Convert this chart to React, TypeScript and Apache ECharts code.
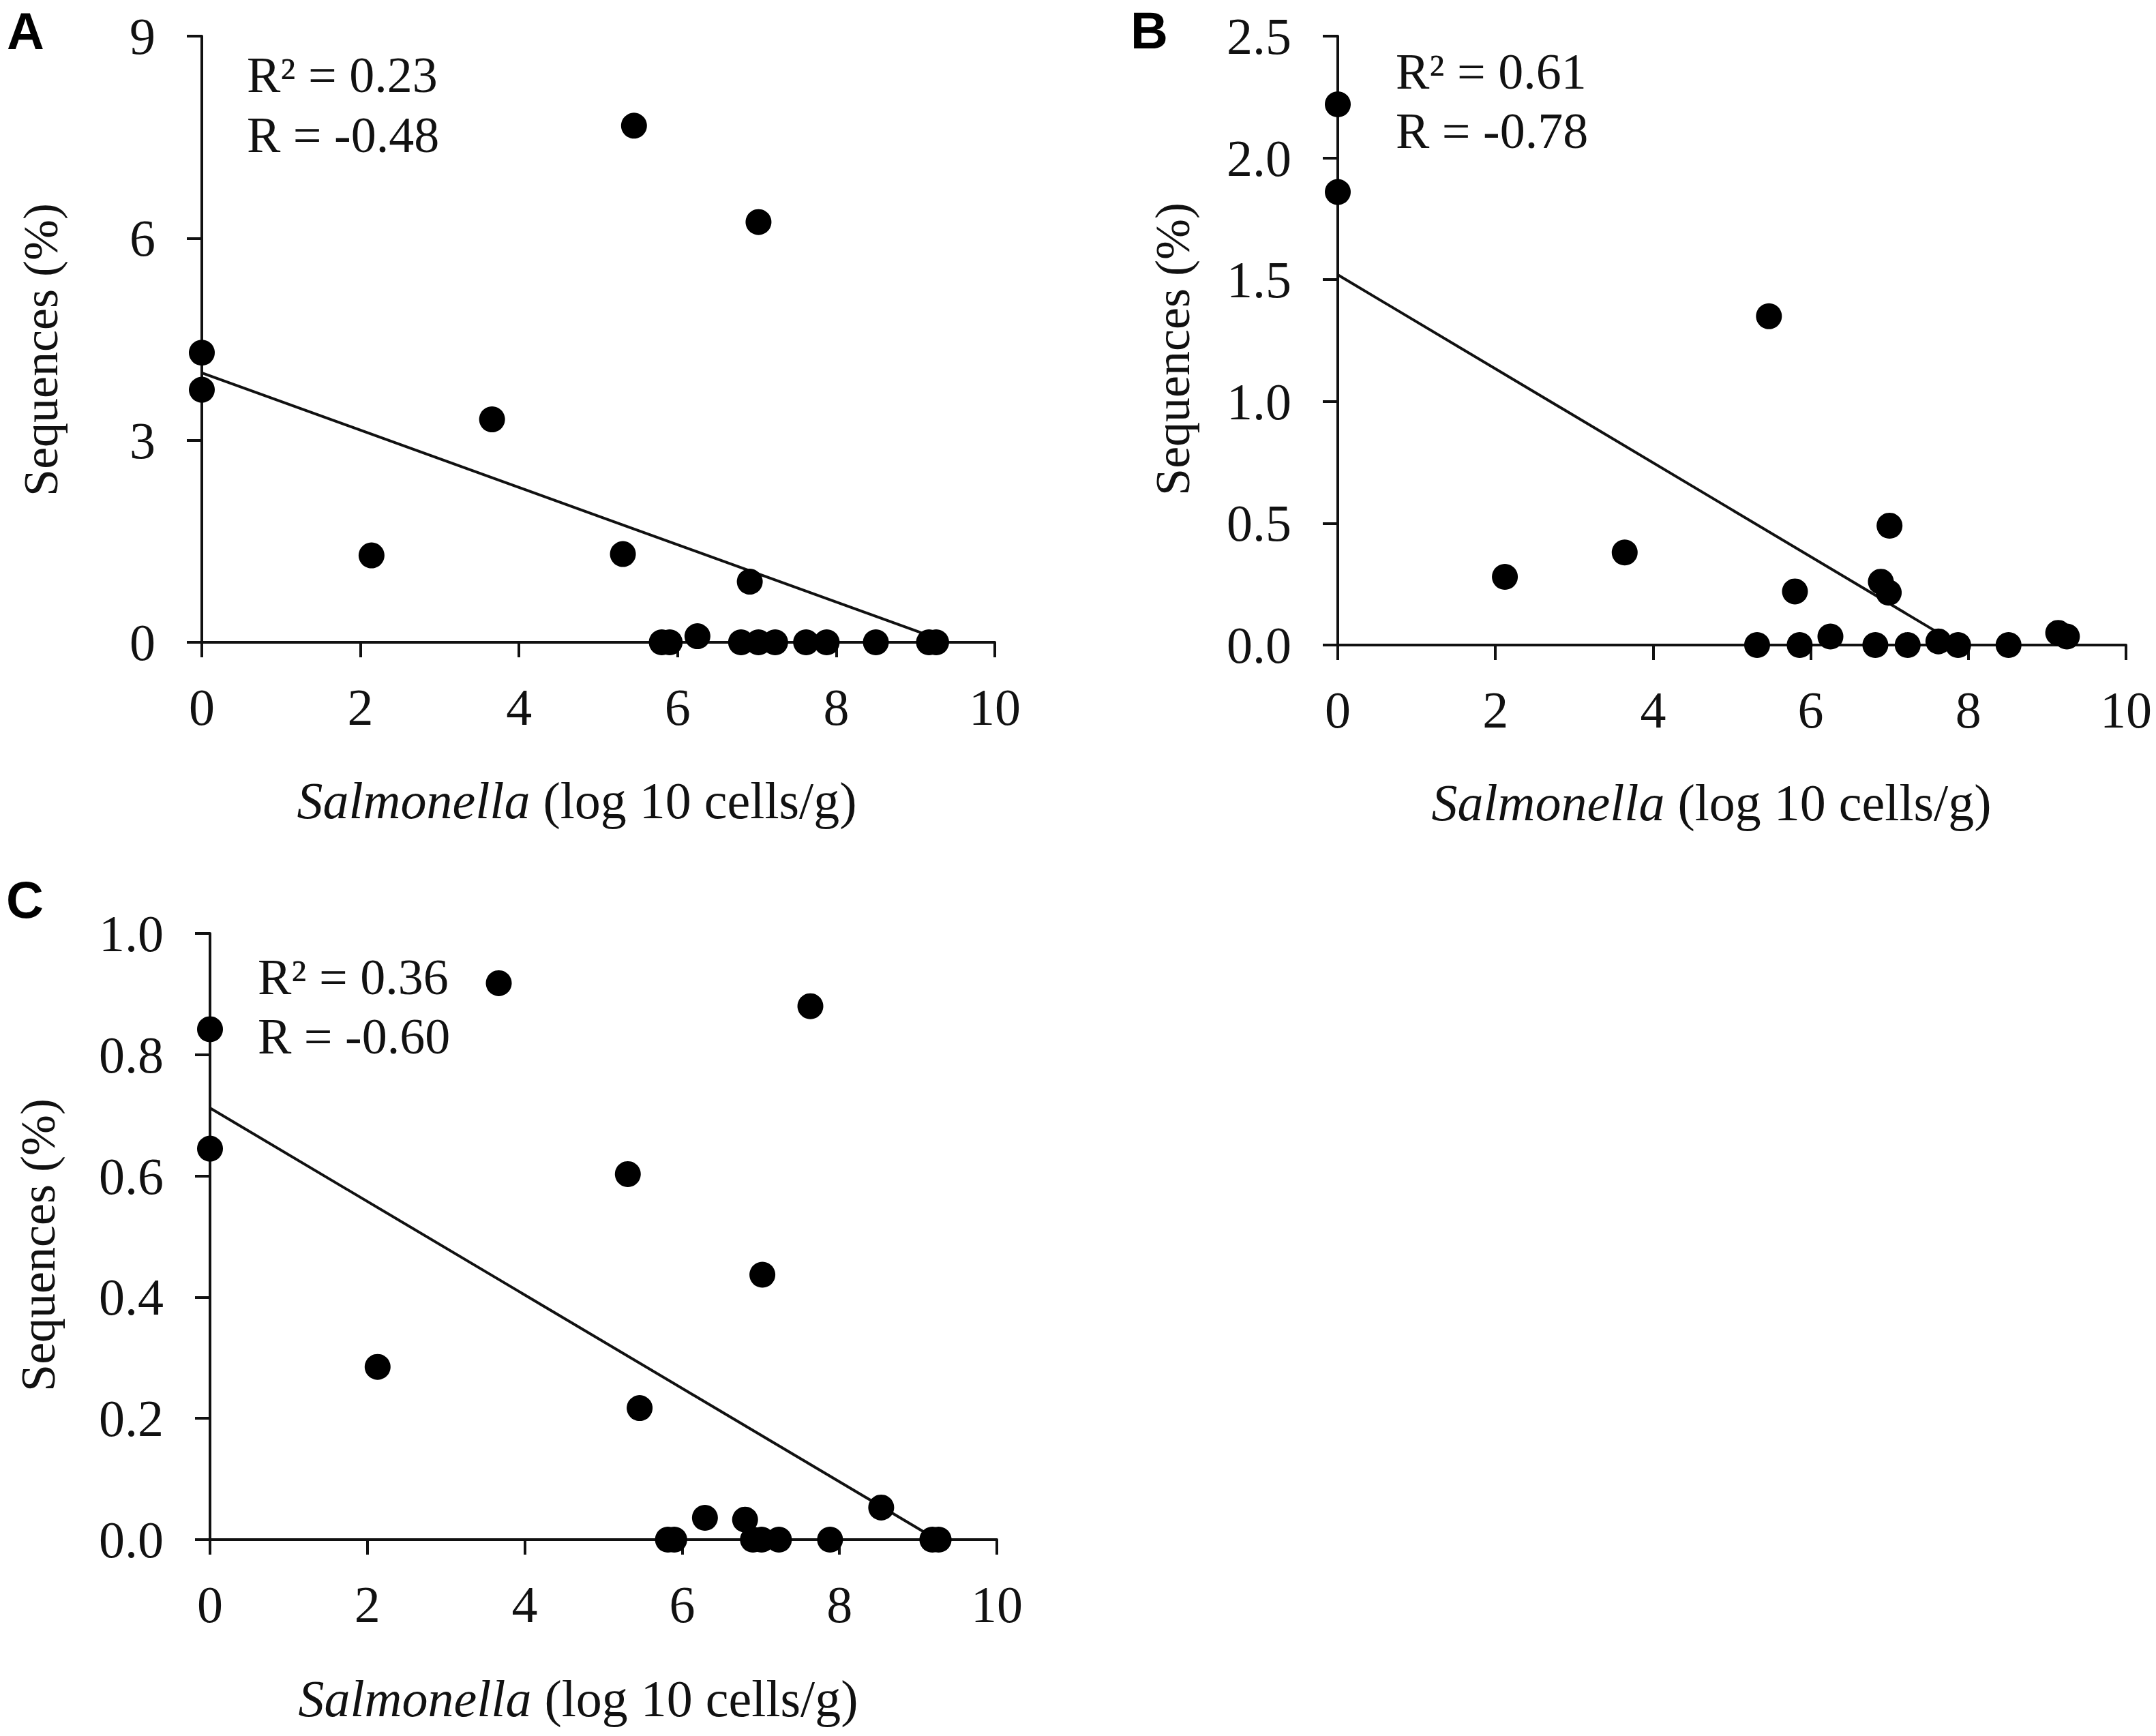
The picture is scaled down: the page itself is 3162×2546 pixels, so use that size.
import React, { useEffect, useRef } from "react";
import * as echarts from "echarts";

// ---------- data ----------
const xTickInterval = 2;
const xMax = 10;

const panelLetters = ["A", "B", "C"];
const r2Labels = ["R² = 0.23", "R² = 0.61", "R² = 0.36"];
const rLabels = ["R = -0.48", "R = -0.78", "R = -0.60"];
const xTitleItalic = "Salmonella";
const xTitleRest = " (log 10 cells/g)";
const yTitle = "Sequences (%)";

const yMaxA = 9;
const yIntervalA = 3;
const yMaxB = 2.5;
const yIntervalB = 0.5;
const yMaxC = 1.0;
const yIntervalC = 0.2;

const xA = [0, 0, 2.14, 3.66, 5.31, 5.45, 5.8, 5.9, 6.25, 6.8, 6.91, 7.02, 7.02, 7.23, 7.62, 7.88, 8.5, 9.17, 9.26];
const yA = [4.3, 3.75, 1.29, 3.31, 1.31, 7.67, 0, 0, 0.09, 0, 0.9, 6.24, 0, 0, 0, 0, 0, 0, 0];
const fitA = [[0, 4.0], [9.1, 0.13]];

const xB = [0, 0, 2.12, 3.64, 5.32, 5.47, 5.8, 5.86, 6.25, 6.82, 6.89, 7.0, 6.99, 7.23, 7.62, 7.87, 8.51, 9.14, 9.25];
const yB = [2.22, 1.86, 0.28, 0.38, 0, 1.35, 0.22, 0, 0.035, 0, 0.26, 0.49, 0.215, 0, 0.015, 0, 0, 0.05, 0.035];
const fitB = [[0, 1.52], [7.62, 0.05]];

const xC = [0, 0, 2.13, 3.67, 5.31, 5.46, 5.82, 5.9, 6.29, 6.8, 6.9, 7.02, 7.01, 7.23, 7.63, 7.88, 8.53, 9.18, 9.26];
const yC = [0.842, 0.645, 0.285, 0.918, 0.603, 0.217, 0, 0, 0.036, 0.033, 0, 0.437, 0, 0, 0.88, 0, 0.053, 0, 0];
const fitC = [[0, 0.712], [9.07, 0.013]];

// ---------- layout / style ----------
const W = 3162;
const H = 2546;
const SERIF = "'Liberation Serif', 'Times New Roman', serif";
const SANS = "'Liberation Sans', Arial, sans-serif";
const INK = "#111";

const grids = [
  { left: 296, top: 53, width: 1163, height: 889 },
  { left: 1962, top: 53, width: 1156, height: 893 },
  { left: 308, top: 1369, width: 1154, height: 889 },
];

const zip = (xs: number[], ys: number[]) => xs.map((x, i) => [x, ys[i]]);

function App() {
  const ref = useRef<HTMLDivElement>(null);

  useEffect(() => {
    if (!ref.current) return;
    const chart = echarts.init(ref.current, null, { renderer: "svg" });

    const yConf = [
      { max: yMaxA, interval: yIntervalA, fmt: (v: number) => String(v) },
      { max: yMaxB, interval: yIntervalB, fmt: (v: number) => v.toFixed(1) },
      { max: yMaxC, interval: yIntervalC, fmt: (v: number) => v.toFixed(1) },
    ];

    const axisCommon = {
      axisLine: { show: true, onZero: false, lineStyle: { color: INK, width: 4 } },
      axisTick: { show: true, inside: false, length: 22, lineStyle: { color: INK, width: 4 } },
      splitLine: { show: false },
    };

    const xAxis = grids.map((_, i) => ({
      type: "value",
      gridIndex: i,
      min: 0,
      max: xMax,
      interval: xTickInterval,
      ...axisCommon,
      axisLabel: {
        margin: 57,
        color: INK,
        fontFamily: SERIF,
        fontSize: 76,
      },
    }));

    const yAxis = grids.map((_, i) => ({
      type: "value",
      gridIndex: i,
      min: 0,
      max: yConf[i].max,
      interval: yConf[i].interval,
      ...axisCommon,
      axisLabel: {
        margin: 68,
        color: INK,
        fontFamily: SERIF,
        fontSize: 76,
        formatter: yConf[i].fmt,
      },
    }));

    const scatterData = [zip(xA, yA), zip(xB, yB), zip(xC, yC)];
    const fits = [fitA, fitB, fitC];

    const series: any[] = [];
    for (let i = 0; i < 3; i++) {
      series.push({
        type: "line",
        xAxisIndex: i,
        yAxisIndex: i,
        data: fits[i],
        symbol: "none",
        lineStyle: { color: INK, width: 4 },
        z: 2,
      });
      series.push({
        type: "scatter",
        xAxisIndex: i,
        yAxisIndex: i,
        data: scatterData[i],
        symbol: "circle",
        symbolSize: 38,
        itemStyle: { color: "#000", opacity: 1 },
        z: 3,
      });
    }

    // text placements
    const letterPos = [
      { x: 10, y: 45 },
      { x: 1658, y: 44 },
      { x: 9, y: 1319 },
    ];
    const annPos = [
      { x: 362, y1: 110, y2: 198 },
      { x: 2047, y1: 105, y2: 192 },
      { x: 378, y1: 1433, y2: 1520 },
    ];
    const xTitlePos = [
      { x: 846, y: 1174 },
      { x: 2510, y: 1177 },
      { x: 848, y: 2491 },
    ];
    const yTitlePos = [
      { x: 60, y: 513 },
      { x: 1720, y: 512 },
      { x: 56, y: 1826 },
    ];

    const graphic: any[] = [];
    for (let i = 0; i < 3; i++) {
      graphic.push({
        type: "text",
        x: letterPos[i].x,
        y: letterPos[i].y,
        style: {
          text: panelLetters[i],
          fontFamily: SANS,
          fontWeight: "bold",
          fontSize: 76,
          fill: "#000",
          textAlign: "left",
          textVerticalAlign: "middle",
        },
      });
      graphic.push({
        type: "text",
        x: annPos[i].x,
        y: annPos[i].y1,
        style: {
          text: r2Labels[i],
          fontFamily: SERIF,
          fontSize: 74,
          fill: INK,
          textAlign: "left",
          textVerticalAlign: "middle",
        },
      });
      graphic.push({
        type: "text",
        x: annPos[i].x,
        y: annPos[i].y2,
        style: {
          text: rLabels[i],
          fontFamily: SERIF,
          fontSize: 74,
          fill: INK,
          textAlign: "left",
          textVerticalAlign: "middle",
        },
      });
      graphic.push({
        type: "text",
        x: xTitlePos[i].x,
        y: xTitlePos[i].y,
        style: {
          text: "{it|" + xTitleItalic + "}{rm|" + xTitleRest + "}",
          rich: {
            it: { fontFamily: SERIF, fontStyle: "italic", fontSize: 76, fill: INK, color: INK },
            rm: { fontFamily: SERIF, fontSize: 76, fill: INK, color: INK },
          },
          fontFamily: SERIF,
          fontSize: 76,
          fill: INK,
          textAlign: "center",
          textVerticalAlign: "middle",
        },
      });
      graphic.push({
        type: "text",
        x: yTitlePos[i].x,
        y: yTitlePos[i].y,
        rotation: Math.PI / 2,
        style: {
          text: yTitle,
          fontFamily: SERIF,
          fontSize: 72,
          fill: INK,
          textAlign: "center",
          textVerticalAlign: "middle",
        },
      });
    }

    chart.setOption({
      animation: false,
      backgroundColor: "#fff",
      grid: grids.map((g) => ({ ...g, containLabel: false, outerBoundsMode: "none" })),
      xAxis,
      yAxis,
      series,
      graphic,
    });

    return () => chart.dispose();
  }, []);

  return (
    <div
      ref={ref}
      style={{ position: "fixed", left: 0, top: 0, width: W, height: H, background: "#fff" }}
    />
  );
}

export default App;
